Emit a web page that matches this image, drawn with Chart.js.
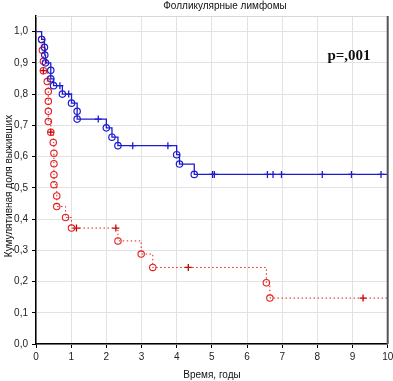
<!DOCTYPE html>
<html>
<head>
<meta charset="utf-8">
<script src="https://cdn.jsdelivr.net/npm/chart.js@4.4.0/dist/chart.umd.min.js"></script>
<style>
  html, body { margin: 0; padding: 0; background: #fff; }
  #wrap { width: 393px; height: 381px; }
</style>
</head>
<body>
<div id="wrap"><canvas id="km"></canvas></div>
<script>
// Kaplan-Meier, values
const blueEventT = [0.16, 0.24, 0.25, 0.27, 0.42, 0.42, 0.5, 0.75, 1.01, 1.17, 1.17, 2.0, 2.16, 2.33, 4.0, 4.08, 4.5];
const blueEventS = [0.975, 0.95, 0.925, 0.9, 0.876, 0.849, 0.827, 0.8, 0.771, 0.745, 0.72, 0.692, 0.662, 0.635, 0.606, 0.576, 0.543];
const blueCensT = [0.68, 0.93, 1.77, 2.75, 3.75, 5.02, 5.07, 6.58, 6.74, 6.98, 8.14, 8.97, 9.81];
const blueCensS = [0.827, 0.8, 0.72, 0.635, 0.635, 0.543, 0.543, 0.543, 0.543, 0.543, 0.543, 0.543, 0.543];

const redEventT = [0.16, 0.18, 0.21, 0.21, 0.32, 0.35, 0.35, 0.35, 0.35, 0.42, 0.49, 0.51, 0.51, 0.51, 0.51, 0.59, 0.59, 0.84, 1.01, 2.33, 2.99, 3.32, 6.55, 6.65];
const redEventS = [0.975, 0.94, 0.905, 0.875, 0.84, 0.808, 0.777, 0.745, 0.712, 0.678, 0.645, 0.611, 0.577, 0.542, 0.51, 0.474, 0.44, 0.405, 0.371, 0.33, 0.288, 0.245, 0.196, 0.147];
const redCensT = [0.21, 0.42, 1.15, 2.27, 4.33, 9.3];
const redCensS = [0.875, 0.678, 0.371, 0.371, 0.245, 0.147];

const xMax = 10;

// step line: start at (0,1), events, run to right edge
function curve(ts, ss) {
    let pts = [{x: 0, y: 1}];
    for (let i = 0; i < ts.length; i++) pts.push({x: ts[i], y: ss[i]});
    pts.push({x: xMax, y: ss[ss.length - 1]});
    return pts;
}
function marks(ts, ss) {
    return ts.map((t, i) => ({x: t, y: ss[i]}));
}

const BLUE = '#1c1cd0';
const RED = '#e02020';

// frame + texts
const extras = {
    id: 'extras',
    afterDraw(chart) {
        const ctx = chart.ctx;
        const a = chart.chartArea;
        ctx.save();
        ctx.strokeStyle = '#d8d8d8';
        ctx.lineWidth = 1;
        ctx.beginPath();
        ctx.moveTo(a.left, a.top + 0.5);
        ctx.lineTo(a.right, a.top + 0.5);
        ctx.stroke();
        ctx.strokeStyle = '#555';
        ctx.lineWidth = 2;
        ctx.beginPath();
        ctx.moveTo(a.right, a.top);
        ctx.lineTo(a.right, a.bottom);
        ctx.stroke();

        ctx.fillStyle = '#111';
        ctx.textAlign = 'center';
        ctx.textBaseline = 'middle';
        ctx.font = '10px Arial, "Liberation Sans"';
        ctx.fillText('Фолликулярные лимфомы', 225, 6);
        ctx.fillText('Время, годы', 212, 375);

        ctx.save();
        ctx.translate(9, 186);
        ctx.rotate(-Math.PI / 2);
        ctx.fillText('Кумулятивная доля выживших', 0, 0);
        ctx.restore();

        ctx.font = 'bold 15px "Times New Roman", "Liberation Serif"';
        ctx.fillText('p=,001', 349, 56);
        ctx.restore();
    }
};

new Chart(document.getElementById('km'), {
    type: 'scatter',
    data: {
        datasets: [
            {
                type: 'line',
                data: curve(blueEventT, blueEventS),
                stepped: 'before',
                borderColor: BLUE,
                borderWidth: 1.3,
                pointStyle: 'circle',
                pointRadius: c => (c.dataIndex === 0 || c.dataIndex === blueEventT.length + 1) ? 0 : 3.2,
                pointBorderColor: BLUE,
                pointBackgroundColor: 'rgba(255,255,255,0)',
                pointBorderWidth: 1.2,
                fill: false,
                order: 1
            },
            {
                data: marks(blueCensT, blueCensS),
                pointStyle: 'cross',
                pointRadius: 3.5,
                pointBorderColor: BLUE,
                pointBorderWidth: 1.3,
                order: 1
            },
            {
                type: 'line',
                data: curve(redEventT, redEventS),
                stepped: 'before',
                borderColor: RED,
                borderWidth: 1,
                borderDash: [1.5, 2.5],
                pointStyle: 'circle',
                pointRadius: c => (c.dataIndex === 0 || c.dataIndex === redEventT.length + 1) ? 0 : 3.2,
                pointBorderColor: RED,
                pointBackgroundColor: 'rgba(255,255,255,0)',
                pointBorderWidth: 1.1,
                fill: false,
                order: 2
            },
            {
                data: marks(redCensT, redCensS),
                pointStyle: 'cross',
                pointRadius: 3.5,
                pointBorderColor: '#c00000',
                pointBorderWidth: 1.3,
                order: 2
            }
        ]
    },
    options: {
        responsive: true,
        maintainAspectRatio: false,
        animation: false,
        layout: { padding: { top: 16, right: 4, left: 0, bottom: 0 } },
        plugins: { legend: { display: false }, tooltip: { enabled: false } },
        scales: {
            x: {
                type: 'linear',
                min: 0,
                max: xMax,
                afterFit: s => { s.height = 37; s.paddingRight = 0; s.paddingLeft = 0; },
                ticks: {
                    stepSize: 1,
                    color: '#222',
                    font: { size: 10, family: 'Arial' },
                    padding: 3,
                    maxRotation: 0
                },
                grid: { color: '#e2e2e2', tickLength: 4, tickColor: '#000' },
                border: { color: '#000', width: 1.5 }
            },
            y: {
                min: 0,
                max: 1.05,
                afterFit: s => { s.width = 36; },
                afterBuildTicks: s => { s.ticks = s.ticks.filter(t => t.value < 1.001); },
                ticks: {
                    stepSize: 0.1,
                    color: '#222',
                    font: { size: 10, family: 'Arial' },
                    padding: 4,
                    callback: v => v.toFixed(1).replace('.', ',')
                },
                grid: { color: '#e2e2e2', tickLength: 4, tickColor: '#000' },
                border: { color: '#000', width: 1.5 }
            }
        }
    },
    plugins: [extras]
});
</script>
</body>
</html>
